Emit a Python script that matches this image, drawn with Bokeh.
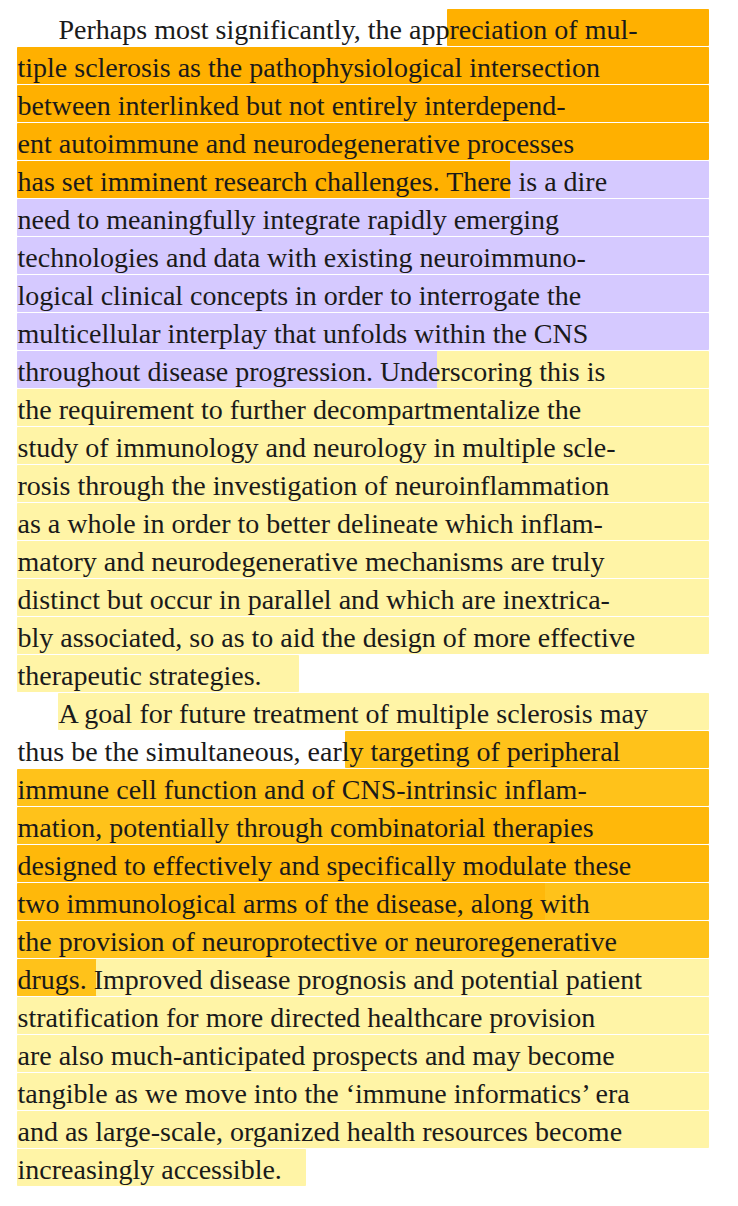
from bokeh.plotting import figure
from bokeh.models import ColumnDataSource, Range1d
from bokeh.core.properties import value
from bokeh.embed import file_html
from bokeh.resources import INLINE

lines = [
    "Perhaps most significantly, the appreciation of mul-",
    "tiple sclerosis as the pathophysiological intersection",
    "between interlinked but not entirely interdepend-",
    "ent autoimmune and neurodegenerative processes",
    "has set imminent research challenges. There is a dire",
    "need to meaningfully integrate rapidly emerging",
    "technologies and data with existing neuroimmuno-",
    "logical clinical concepts in order to interrogate the",
    "multicellular interplay that unfolds within the CNS",
    "throughout disease progression. Underscoring this is",
    "the requirement to further decompartmentalize the",
    "study of immunology and neurology in multiple scle-",
    "rosis through the investigation of neuroinflammation",
    "as a whole in order to better delineate which inflam-",
    "matory and neurodegenerative mechanisms are truly",
    "distinct but occur in parallel and which are inextrica-",
    "bly associated, so as to aid the design of more effective",
    "therapeutic strategies.",
    "A goal for future treatment of multiple sclerosis may",
    "thus be the simultaneous, early targeting of peripheral",
    "immune cell function and of CNS-intrinsic inflam-",
    "mation, potentially through combinatorial therapies",
    "designed to effectively and specifically modulate these",
    "two immunological arms of the disease, along with",
    "the provision of neuroprotective or neuroregenerative",
    "drugs. Improved disease prognosis and potential patient",
    "stratification for more directed healthcare provision",
    "are also much-anticipated prospects and may become",
    "tangible as we move into the \u2018immune informatics\u2019 era",
    "and as large-scale, organized health resources become",
    "increasingly accessible.",
]
indented = [0, 18]

ORANGE = "#FFB000"
LAVENDER = "#D5C9FF"
YELLOW = "#FFF4A6"
AMBER = "#FFC21A"
AMBER2 = "#FFB80A"

# (line index, start x, end x, colour)
highlights = [
    (0, 447, 708, ORANGE),
    (1, 17, 708, ORANGE), (2, 17, 708, ORANGE), (3, 17, 708, ORANGE),
    (4, 17, 510, ORANGE), (4, 510, 708, LAVENDER),
    (5, 17, 708, LAVENDER), (6, 17, 708, LAVENDER), (7, 17, 708, LAVENDER),
    (8, 17, 708, LAVENDER), (9, 17, 437, LAVENDER), (9, 437, 708, YELLOW),
    (10, 17, 708, YELLOW), (11, 17, 708, YELLOW), (12, 17, 708, YELLOW),
    (13, 17, 708, YELLOW), (14, 17, 708, YELLOW), (15, 17, 708, YELLOW),
    (16, 17, 708, YELLOW), (17, 17, 298, YELLOW),
    (18, 58, 708, YELLOW),
    (19, 345, 708, AMBER), (20, 17, 708, AMBER),
    (21, 17, 390, AMBER), (21, 390, 708, AMBER2), (22, 17, 708, AMBER2),
    (23, 17, 545, AMBER2), (23, 545, 708, AMBER), (24, 17, 708, AMBER),
    (25, 17, 96, AMBER), (25, 96, 708, YELLOW),
    (26, 17, 708, YELLOW), (27, 17, 708, YELLOW), (28, 17, 708, YELLOW),
    (29, 17, 708, YELLOW), (30, 17, 305, YELLOW),
]

top_y = 27
step = 38

p = figure(width=722, height=1190, output_backend="svg", toolbar_location=None,
           x_range=Range1d(0, 722), y_range=Range1d(1190, 0), min_border=0)
p.axis.visible = False
p.grid.visible = False
p.outline_line_color = None
p.background_fill_color = "white"

hl = ColumnDataSource(dict(
    left=[h[1] for h in highlights],
    right=[h[2] for h in highlights],
    top=[top_y + step * h[0] - 18 for h in highlights],
    bottom=[top_y + step * h[0] + 18 for h in highlights],
    color=[h[3] for h in highlights],
))
p.quad(left="left", right="right", top="top", bottom="bottom", color="color", source=hl)

src = ColumnDataSource(dict(
    x=[58 if i in indented else 17 for i in range(len(lines))],
    y=[top_y + step * i + 2 for i in range(len(lines))],
    t=lines,
))
p.text(x="x", y="y", text="t", source=src, text_font=value("Liberation Serif"),
       text_font_size="28px", text_baseline="middle", text_color="#1a1a1a")

open("out.html", "w").write(file_html(p, INLINE))
